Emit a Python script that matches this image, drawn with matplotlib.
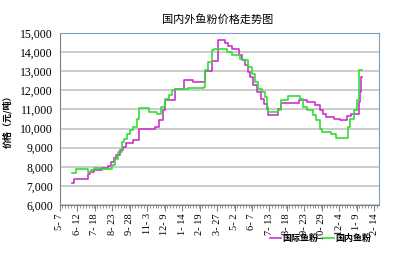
import matplotlib
matplotlib.use("Agg")
import matplotlib.pyplot as plt
import matplotlib.dates as mdates
from matplotlib.ticker import FuncFormatter, MultipleLocator
import datetime as dt

# price breakpoints (days after 2009-05-07)
start = dt.date(2009, 5, 7)

intl_days = [24, 29, 58, 62, 70, 86, 99, 105, 112, 115, 124, 130, 137, 151, 162,
             196, 205, 212, 217, 238, 255, 275, 300, 314, 325, 341, 347, 355,
             370, 376, 382, 388, 392, 398, 406, 415, 420, 426, 430, 449, 455,
             492, 510, 525, 537, 543, 548, 565, 578, 593, 600, 616, 619, 621, 623]
intl_price = [7170, 7370, 7600, 7720, 7810, 7950, 8040, 8250, 8450, 8630, 8860,
              9030, 9240, 9420, 9980, 10080, 10430, 10950, 11470, 12090, 12560,
              12430, 13010, 13560, 14610, 14470, 14300, 14180, 13830, 13570,
              13310, 12940, 12690, 12260, 11910, 11560, 11300, 11040, 10690,
              11040, 11340, 11510, 11400, 11210, 10950, 10780, 10600, 10500,
              10430, 10650, 10780, 11400, 11900, 12700, 12700]

dom_days = [24, 34, 58, 64, 70, 82, 108, 113, 120, 127, 131, 138, 145, 151, 158,
            163, 183, 200, 209, 217, 224, 230, 238, 265, 296, 300, 306, 314,
            317, 345, 355, 372, 378, 388, 396, 402, 409, 417, 422, 427, 430,
            449, 455, 470, 496, 501, 510, 521, 528, 536, 541, 558, 570, 594,
            598, 606, 613, 616, 623]
dom_price = [7690, 7860, 7720, 7810, 7950, 7900, 8070, 8420, 8770, 9290, 9470,
             9730, 9900, 10080, 10500, 11090, 10860, 10780, 11120, 11560, 11740,
             12000, 12080, 12120, 12170, 13040, 13480, 14090, 14180, 14000,
             13830, 13650, 13570, 13220, 12870, 12430, 12090, 11910, 11650,
             11120, 10860, 10950, 11470, 11680, 11560, 11120, 10950, 10690,
             10430, 9990, 9815, 9730, 9520, 10080, 10500, 10950, 11470, 13040,
             13080]

tick_step = 36  # days between date labels
end_day = 658

intl_dates = [start + dt.timedelta(days=d) for d in intl_days]
dom_dates = [start + dt.timedelta(days=d) for d in dom_days]

plt.rcParams['font.family'] = ['Noto Sans CJK SC', 'DejaVu Sans']

fig = plt.figure(figsize=(4.1, 2.54), dpi=100)
ax = fig.add_axes([60/410, 1-205/254, 319/410, 172/254])

ax.plot(intl_dates, intl_price, color='#cc33cc', lw=1.2, drawstyle='steps-post',
        label='国际鱼粉')
ax.plot(dom_dates, dom_price, color='#33dd33', lw=1.2, drawstyle='steps-post',
        label='国内鱼粉')

ax.set_ylim(6000, 15000)
ax.set_xlim(mdates.date2num(start), mdates.date2num(start + dt.timedelta(days=end_day)))

ax.yaxis.set_major_locator(MultipleLocator(1000))
ax.yaxis.set_major_formatter(FuncFormatter(lambda v, p: f"{int(v):,}"))
ax.grid(axis='y', color='#c8c8c8', lw=1.3)
ax.set_axisbelow(True)

tick_dates = [start + dt.timedelta(days=d) for d in range(0, end_day, tick_step)]
ax.set_xticks([mdates.date2num(d) for d in tick_dates])
ax.set_xticklabels([f"{d.month}- {d.day}" for d in tick_dates], rotation=90,
                   family='Liberation Serif', fontsize=7.5)
ax.xaxis.set_minor_locator(MultipleLocator(6))
ax.tick_params(axis='x', which='major', length=4, width=0.8, color='#808080', pad=2)
ax.tick_params(axis='x', which='minor', length=2, width=0.6, color='#808080')
ax.tick_params(axis='y', length=0, pad=5)
for t in ax.get_yticklabels():
    t.set_family('Liberation Serif')
    t.set_fontsize(8.5)

for s in ['left', 'bottom']:
    ax.spines[s].set_color('#808080')
for s in ['top', 'right']:
    ax.spines[s].set_color('#7f9fc0')

ax.set_ylabel('价格（元/吨）', fontsize=6.5, fontweight='bold', labelpad=6)
fig.text(0.532, 0.925, '国内外鱼粉价格走势图', ha='center', va='center', fontsize=8)

fig.legend(loc='center right', bbox_to_anchor=(0.925, 0.06), ncol=2, frameon=False,
           handlelength=1.2, handletextpad=0.1, columnspacing=0.6,
           prop={'weight': 'bold', 'size': 6.5})

fig.savefig('out.png', dpi=100)
